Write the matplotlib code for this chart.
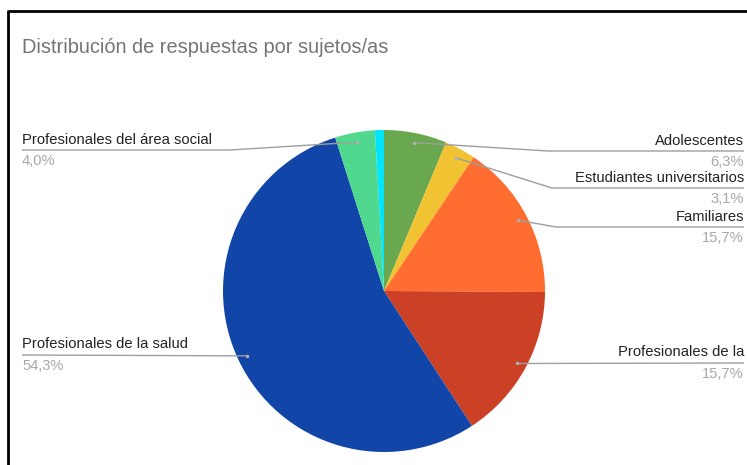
import math
import matplotlib.pyplot as plt

# datos de la encuesta
categorias = ['Adolescentes', 'Estudiantes universitarios', 'Familiares',
              'Profesionales de la', 'Profesionales de la salud',
              'Profesionales del área social', '']
porcentajes = [6.3, 3.1, 15.7, 15.7, 54.3, 4.0, 0.9]
colores = ['#6aa84f', '#f1c232', '#ff6d31', '#cc4125', '#1145a8', '#4fd88e', '#00e5ff']

titulo = 'Distribución de respuestas por sujetos/as'

W, H = 747, 465
def Y(y):
    # coordenadas en pixeles con origen arriba
    return H - y

# posicion de cada etiqueta: lado, altura de la linea guia, codo de la linea
etiquetas = {
    0: ('der', 151, 548),
    1: ('der', 188, 552),
    2: ('der', 227, 556),
    3: ('der', 363, None),
    4: ('izq', 355, None),
    5: ('izq', 150, 230),
}

fig = plt.figure(figsize=(W / 100, H / 100), dpi=100)
ax = fig.add_axes([0, 0, 1, 1])

cx, cy, R = 384, 291, 161
ax.pie(porcentajes, colors=colores, startangle=90, counterclock=False,
       center=(cx, Y(cy)), radius=R, wedgeprops=dict(linewidth=0))

ax.set_xlim(0, W)
ax.set_ylim(0, H)
ax.set_aspect('equal')
ax.axis('off')

total = sum(porcentajes)
acum = 0
gris = '#9e9e9e'
for i, v in enumerate(porcentajes):
    medio = (acum + v / 2) / total
    acum += v
    if i not in etiquetas:
        continue
    ang = math.radians(90 - 360 * medio)
    px = cx + 0.94 * R * math.cos(ang)
    py = Y(cy) + 0.94 * R * math.sin(ang)
    lado, yl, codo = etiquetas[i]
    if lado == 'der':
        xs = [px] + ([codo] if codo else []) + [744]
        xt, ha = 744, 'right'
    else:
        xs = [px] + ([codo] if codo else []) + [22]
        xt, ha = 22, 'left'
    ys = [py] + [Y(yl)] * (len(xs) - 1)
    ax.plot(xs, ys, color=gris, lw=1, solid_capstyle='butt')
    ax.plot(px, py, 'o', ms=2.5, color='#b0b0b0', mec='none')
    ax.text(xt, Y(yl) + 3.5, categorias[i], ha=ha, va='bottom',
            fontsize=10.6, color='#222222', family='Liberation Sans')
    ax.text(xt, Y(yl) - 3.5, f'{v:.1f}'.replace('.', ',') + '%', ha=ha, va='top',
            fontsize=10.6, color='#a8a8a8', family='Liberation Sans')

ax.text(22, Y(47), titulo, ha='left', va='center', fontsize=14.4,
        color='#757575', family='Liberation Sans')

# marco del recorte
ax.plot([8, W], [Y(11), Y(11)], color='black', lw=2, solid_capstyle='butt')
ax.plot([8, 8], [Y(10), 0], color='black', lw=2, solid_capstyle='butt')

fig.savefig('out.png', dpi=100)
